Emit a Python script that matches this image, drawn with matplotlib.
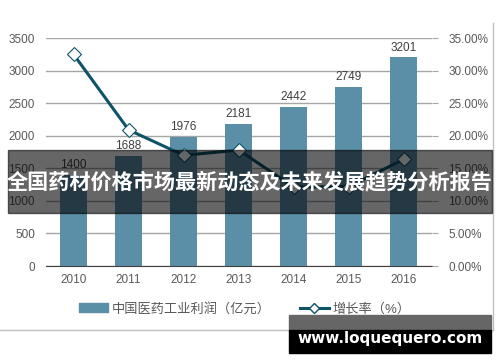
import matplotlib.pyplot as plt
import matplotlib.patches as mpatches
from matplotlib.lines import Line2D
import numpy as np

plt.rcParams['font.family'] = ['Liberation Sans', 'Noto Sans CJK SC', 'DejaVu Sans']

# ============ Dados ============
anos = ['2010', '2011', '2012', '2013', '2014', '2015', '2016']
lucro = [1400, 1688, 1976, 2181, 2442, 2749, 3201]
crescimento = [32.5, 20.9, 17.0, 17.8, 12.1, 12.2, 16.4]

titulo = '全国药材价格市场最新动态及未来发展趋势分析报告'
marca = 'www.loquequero.com'

cor_barra = '#5b8fa8'
cor_linha = '#0e5468'
cor_texto = '#595959'

fig = plt.figure(figsize=(5, 3.62), dpi=100)
ax = fig.add_axes([0.092, 0.265, 0.771, 0.63])
x = np.arange(len(anos))

ax.bar(x, lucro, width=0.49, color=cor_barra, zorder=2)
for xi, v in zip(x, lucro):
    ax.text(xi, v + 60, str(v), ha='center', va='bottom', fontsize=8.5, color='#404040')

ax.set_xlim(-0.5, len(anos) - 0.5)
ax.set_ylim(0, 3500)
ax.set_yticks(range(0, 3501, 500))
ax.set_xticks(x)
ax.set_xticklabels(anos)
ax.grid(axis='y', color='#a6a6a6', linewidth=1, zorder=0)
for s in ['top', 'right', 'left']:
    ax.spines[s].set_visible(False)
ax.spines['bottom'].set_color('#404040')
ax.tick_params(axis='both', length=0, labelsize=8.5, labelcolor=cor_texto)
ax.tick_params(axis='x', pad=6)
ax.tick_params(axis='y', pad=8)

ax2 = ax.twinx()
ax2.plot(x, crescimento, color=cor_linha, linewidth=2.2, marker='D', markersize=7,
         markerfacecolor='white', markeredgecolor=cor_linha, markeredgewidth=0.8, zorder=3)
ax2.set_ylim(0, 35)
ax2.set_yticks(np.arange(0, 35.1, 5))
ax2.set_yticklabels(['%.2f%%' % t for t in np.arange(0, 35.1, 5)])
for s in ax2.spines.values():
    s.set_visible(False)
ax2.tick_params(axis='y', length=4, color='#a6a6a6', labelsize=8.5, labelcolor=cor_texto, pad=8)

# legenda
h1 = mpatches.Patch(color=cor_barra, label='中国医药工业利润（亿元）')
h2 = Line2D([0], [0], color=cor_linha, linewidth=2.2, marker='D', markersize=5,
            markerfacecolor='white', markeredgecolor=cor_linha, label='增长率（%）')
fig.legend(handles=[h1, h2], loc='center', bbox_to_anchor=(0.49, 1 - 309 / 362), ncol=2,
           frameon=False, fontsize=9.5, labelcolor=cor_texto, handlelength=2.2,
           handletextpad=0.3, columnspacing=2.2)

# moldura do gráfico
fig.add_artist(Line2D([0, 493 / 500], [1 - 330 / 362] * 2, color='#bfbfbf', linewidth=1))
fig.add_artist(Line2D([493 / 500] * 2, [1 - 23 / 362, 1 - 330 / 362], color='#bfbfbf', linewidth=1))

# faixa do título
fig.add_artist(mpatches.Rectangle((8 / 500, 1 - 213 / 362), 484 / 500, 63 / 362,
                                  transform=fig.transFigure, color='black', alpha=0.6, zorder=10))
fig.text(0.5, 1 - 182 / 362, titulo, ha='center', va='center', color='white', fontsize=15.2,
         fontweight='bold', family=['Noto Sans CJK SC', 'DejaVu Sans'], zorder=11)

# marca d'água
fig.add_artist(mpatches.Rectangle((289 / 500, 1 - 330 / 362), 202 / 500, 15 / 362,
                                  transform=fig.transFigure, color='#666666', zorder=10))
fig.add_artist(mpatches.Rectangle((289 / 500, 1 - 353 / 362), 202 / 500, 23 / 362,
                                  transform=fig.transFigure, color='black', zorder=10))
fig.text(390 / 500, 1 - 338 / 362, marca, ha='center', va='center', color='white', fontsize=11,
         fontweight='bold', family='DejaVu Sans', zorder=11)

fig.savefig('out.png', dpi=100)
